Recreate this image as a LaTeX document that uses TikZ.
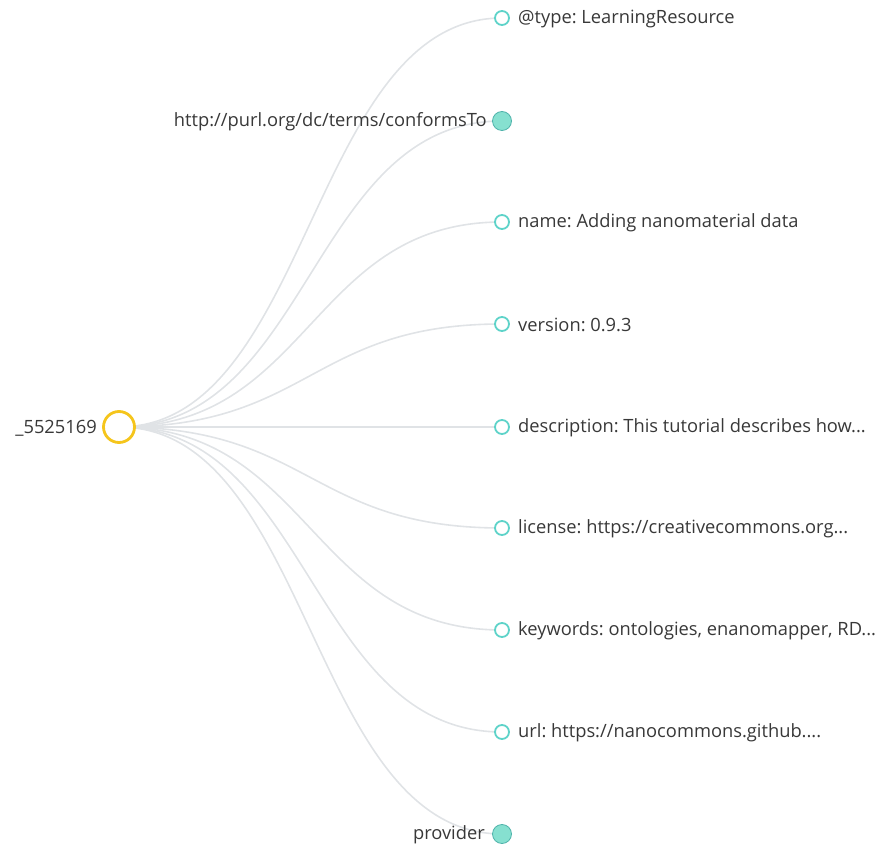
\documentclass[tikz,border=0pt]{standalone}
\usepackage{fontspec}
\setmainfont{Open Sans}
\usetikzlibrary{backgrounds}
\definecolor{linkc}{HTML}{E0E3E6}
\definecolor{leafc}{HTML}{5ED3C9}
\definecolor{fillc}{HTML}{86E0D0}
\definecolor{rootc}{HTML}{F5C51C}
\definecolor{txtc}{HTML}{383838}
\frenchspacing
\begin{document}
\begin{tikzpicture}[x=1pt,y=-1pt,
  leaf/.style={circle,draw=leafc,line width=1.8pt,fill=white,minimum size=14pt,inner sep=0pt},
  fleaf/.style={circle,draw=leafc!85!black,line width=0.8pt,fill=fillc,minimum size=19pt,inner sep=0pt},
  rootn/.style={circle,draw=rootc,line width=2.8pt,fill=white,minimum size=31pt,inner sep=0pt},
  lab/.style={font=\fontsize{18.3}{20}\selectfont,text=txtc,inner sep=0pt},
  link/.style={draw=linkc,line width=1.6pt}]
\useasboundingbox (0,0) rectangle (884,858);
\node[rootn] (r) at (119,427) {};
\node[lab,anchor=east] (rl) at (97,428) {\_5525169};
\coordinate (mid) at (310.5,427);
\node[leaf] (n1) at (502,18) {};
\node[fleaf] (n2) at (502,121) {};
\node[leaf] (n3) at (502,222) {};
\node[leaf] (n4) at (502,324) {};
\node[leaf] (n5) at (502,427) {};
\node[leaf] (n6) at (502,528) {};
\node[leaf] (n7) at (502,630) {};
\node[leaf] (n8) at (502,732) {};
\node[fleaf] (n9) at (502,834) {};
\node[lab,anchor=west] (l1) at (518,19) {@type: LearningResource};
\node[lab,anchor=east] (l2) at (487,122) {http://purl.org/dc/terms/conformsTo};
\node[lab,anchor=west] (l3) at (518,223) {name: Adding nanomaterial data};
\node[lab,anchor=west] (l4) at (518,325) {version: 0.9.3};
\node[lab,anchor=west] (l5) at (518,428) {description: This tutorial describes how...};
\node[lab,anchor=west] (l6) at (518,529) {license: https://creativecommons.org...};
\node[lab,anchor=west] (l7) at (518,631) {keywords: ontologies, enanomapper, RD...};
\node[lab,anchor=west] (l8) at (518,733) {url: https://nanocommons.github....};
\node[lab,anchor=east] (l9) at (485,835) {provider};
\begin{scope}[on background layer]
\foreach \n in {n1,n2,n3,n4,n5,n6,n7,n8,n9}
  \draw[link] (r.center) .. controls (r.center -| mid) and (\n.center -| mid) .. (\n.center);
\end{scope}
\end{tikzpicture}
\end{document}
